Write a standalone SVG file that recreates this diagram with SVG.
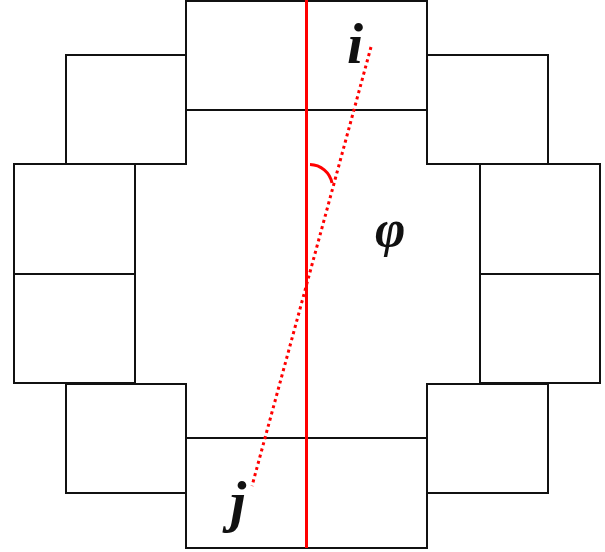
<svg xmlns="http://www.w3.org/2000/svg" width="605" height="552" viewBox="0 0 605 552">
<style>
.box{fill:#fff;stroke:#111;stroke-width:2}
.open{fill:none;stroke:#111;stroke-width:2}
.red{stroke:#ff0000;stroke-width:3;fill:none}
.dot{stroke:#ff0000;stroke-width:3;fill:none;stroke-dasharray:3 3.4}
.lbl{font-family:"Liberation Serif","DejaVu Serif",serif;font-style:italic;font-weight:bold;fill:#111}
</style>
<rect width="605" height="552" fill="#fff"/>
<g id="n-top-outer"><rect class="box" x="186" y="1" width="241" height="109"/></g>
<g id="n-top-inner"><path class="open" d="M186,164 V110 H427 V164"/></g>
<g id="n-bottom-inner"><path class="open" d="M186,384 V438 H427 V384"/></g>
<g id="n-bottom-outer"><rect class="box" x="186" y="438" width="241" height="110"/></g>
<g id="n-top-left"><rect class="box" x="66" y="55" width="120" height="109"/></g>
<g id="n-top-right"><rect class="box" x="427" y="55" width="121" height="109"/></g>
<g id="n-left-upper"><rect class="box" x="14" y="164" width="121" height="110"/></g>
<g id="n-left-lower"><rect class="box" x="14" y="274" width="121" height="109"/></g>
<g id="n-right-upper"><rect class="box" x="480" y="164" width="120" height="110"/></g>
<g id="n-right-lower"><rect class="box" x="480" y="274" width="120" height="109"/></g>
<g id="n-bottom-left"><rect class="box" x="66" y="384" width="120" height="109"/></g>
<g id="n-bottom-right"><rect class="box" x="427" y="384" width="121" height="109"/></g>
<g id="connectors">
<line class="red" x1="306.5" y1="0" x2="306.5" y2="548"/>
<line class="dot" x1="371" y1="47" x2="252" y2="486"/>
<path class="red" d="M310,164.5 A23,23 0 0 1 332,183"/>
</g>
<g id="labels">
<text class="lbl" x="347" y="63" font-size="58">i</text>
<text class="lbl" x="230" y="521" font-size="58">j</text>
<text class="lbl" x="375" y="246" font-size="52">φ</text>
</g>
</svg>
